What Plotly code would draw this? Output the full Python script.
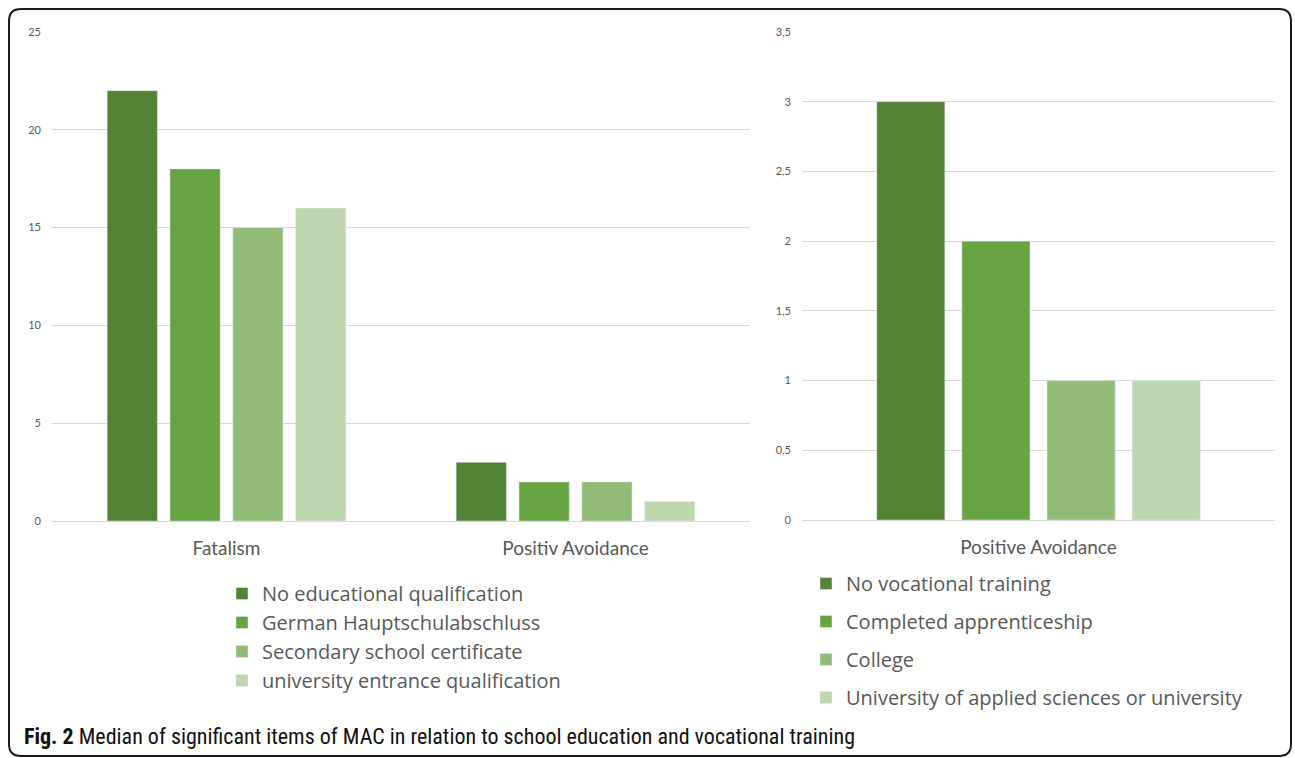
import plotly.graph_objects as go

W, H = 1295, 758

# ---- data ----
school_categories = ["Fatalism", "Positiv Avoidance"]
school_series = ["No educational qualification", "German Hauptschulabschluss",
                 "Secondary school certificate", "university entrance qualification"]
school_values = [[22, 3], [18, 2], [15, 2], [16, 1]]

voc_categories = ["Positive Avoidance"]
voc_series = ["No vocational training", "Completed apprenticeship", "College",
              "University of applied sciences or university"]
voc_values = [[3], [2], [1], [1]]

colors = ["#548235", "#68a342", "#92bb78", "#bdd6b0"]

left_yticks = [0, 5, 10, 15, 20, 25]
right_yticks = [0, 0.5, 1, 1.5, 2, 2.5, 3, 3.5]

caption = "<b>Fig. 2</b> Median of significant items of MAC in relation to school education and vocational training"

def px(x):
    return x / W

def py(y):
    return 1 - y / H

fig = go.Figure()
for name, vals, c in zip(school_series, school_values, colors):
    fig.add_trace(go.Bar(x=school_categories, y=vals, name=name, marker_color=c,
                         xaxis="x", yaxis="y", legend="legend", hoverinfo="skip"))
for i, (name, vals, c) in enumerate(zip(voc_series, voc_values, colors)):
    fig.add_trace(go.Bar(x=voc_categories, y=vals, name=name, marker_color=c,
                         xaxis="x2", yaxis="y2", legend="legend2", legendgroup=f"g{i}",
                         hoverinfo="skip"))

narrow = "Roboto Condensed, Liberation Sans Narrow, Liberation Sans, sans-serif"
tickfont_y = dict(family="Lato, Open Sans, sans-serif", size=11, color="#595959")
tickfont_x = dict(family="Lato, Open Sans, sans-serif", size=19, color="#595959")
legfont = dict(family="Open Sans, Lato, sans-serif", size=20, color="#595959")

# rounded border
x0, y0, x1, y1, r = 9, 9, 1291, 756, 12
path = (f"M {px(x0+r)},{py(y0)} L {px(x1-r)},{py(y0)} Q {px(x1)},{py(y0)} {px(x1)},{py(y0+r)} "
        f"L {px(x1)},{py(y1-r)} Q {px(x1)},{py(y1)} {px(x1-r)},{py(y1)} "
        f"L {px(x0+r)},{py(y1)} Q {px(x0)},{py(y1)} {px(x0)},{py(y1-r)} "
        f"L {px(x0)},{py(y0+r)} Q {px(x0)},{py(y0)} {px(x0+r)},{py(y0)} Z")

fig.update_layout(
    width=W, height=H,
    margin=dict(l=0, r=0, t=0, b=0, autoexpand=False),
    paper_bgcolor="white", plot_bgcolor="white",
    separators=",.",
    barmode="group", bargap=0.28, bargroupgap=0.2,
    xaxis=dict(domain=[px(52), px(750)], anchor="y", showgrid=False, showline=False,
               tickfont=tickfont_x, ticks="", ticklabelstandoff=14, fixedrange=True),
    yaxis=dict(domain=[py(521), py(32)], anchor="x", range=[0, 25], tickvals=left_yticks,
               showgrid=True, gridcolor="#d9d9d9", gridwidth=1, zeroline=True,
               zerolinecolor="#d9d9d9", zerolinewidth=1, showline=False,
               tickfont=tickfont_y, ticks="", ticklabelstandoff=10, fixedrange=True),
    xaxis2=dict(domain=[px(802), px(1275)], anchor="y2", showgrid=False, showline=False,
                tickfont=tickfont_x, ticks="", ticklabelstandoff=14, fixedrange=True),
    yaxis2=dict(domain=[py(520), py(32)], anchor="x2", range=[0, 3.5], tickvals=right_yticks,
                showgrid=True, gridcolor="#d9d9d9", gridwidth=1, zeroline=True,
                zerolinecolor="#d9d9d9", zerolinewidth=1, showline=False,
                tickfont=tickfont_y, ticks="", ticklabelstandoff=10, fixedrange=True),
    legend=dict(x=px(222), y=py(574), xanchor="left", yanchor="top", font=legfont,
                bgcolor="rgba(0,0,0,0)", traceorder="normal"),
    legend2=dict(x=px(806), y=py(564), xanchor="left", yanchor="top", font=legfont,
                 bgcolor="rgba(0,0,0,0)", traceorder="grouped", tracegroupgap=9),
    shapes=[dict(type="path", path=path, xref="paper", yref="paper",
                 line=dict(color="#1a1a1a", width=2), layer="above")],
    annotations=[dict(text=caption, x=px(22), y=py(736), xref="paper", yref="paper",
                      xanchor="left", yanchor="middle", showarrow=False,
                      font=dict(family=narrow, size=22, color="#111111"))],
)

post = ("var d=document.getElementById('{plot_id}');"
        "document.body.style.margin='0';document.body.style.padding='0';"
        "document.body.style.overflow='hidden';"
        "d.style.position='fixed';d.style.left='0px';d.style.top='0px';")
fig.write_html("out.html", post_script=post, config={"displayModeBar": False})
